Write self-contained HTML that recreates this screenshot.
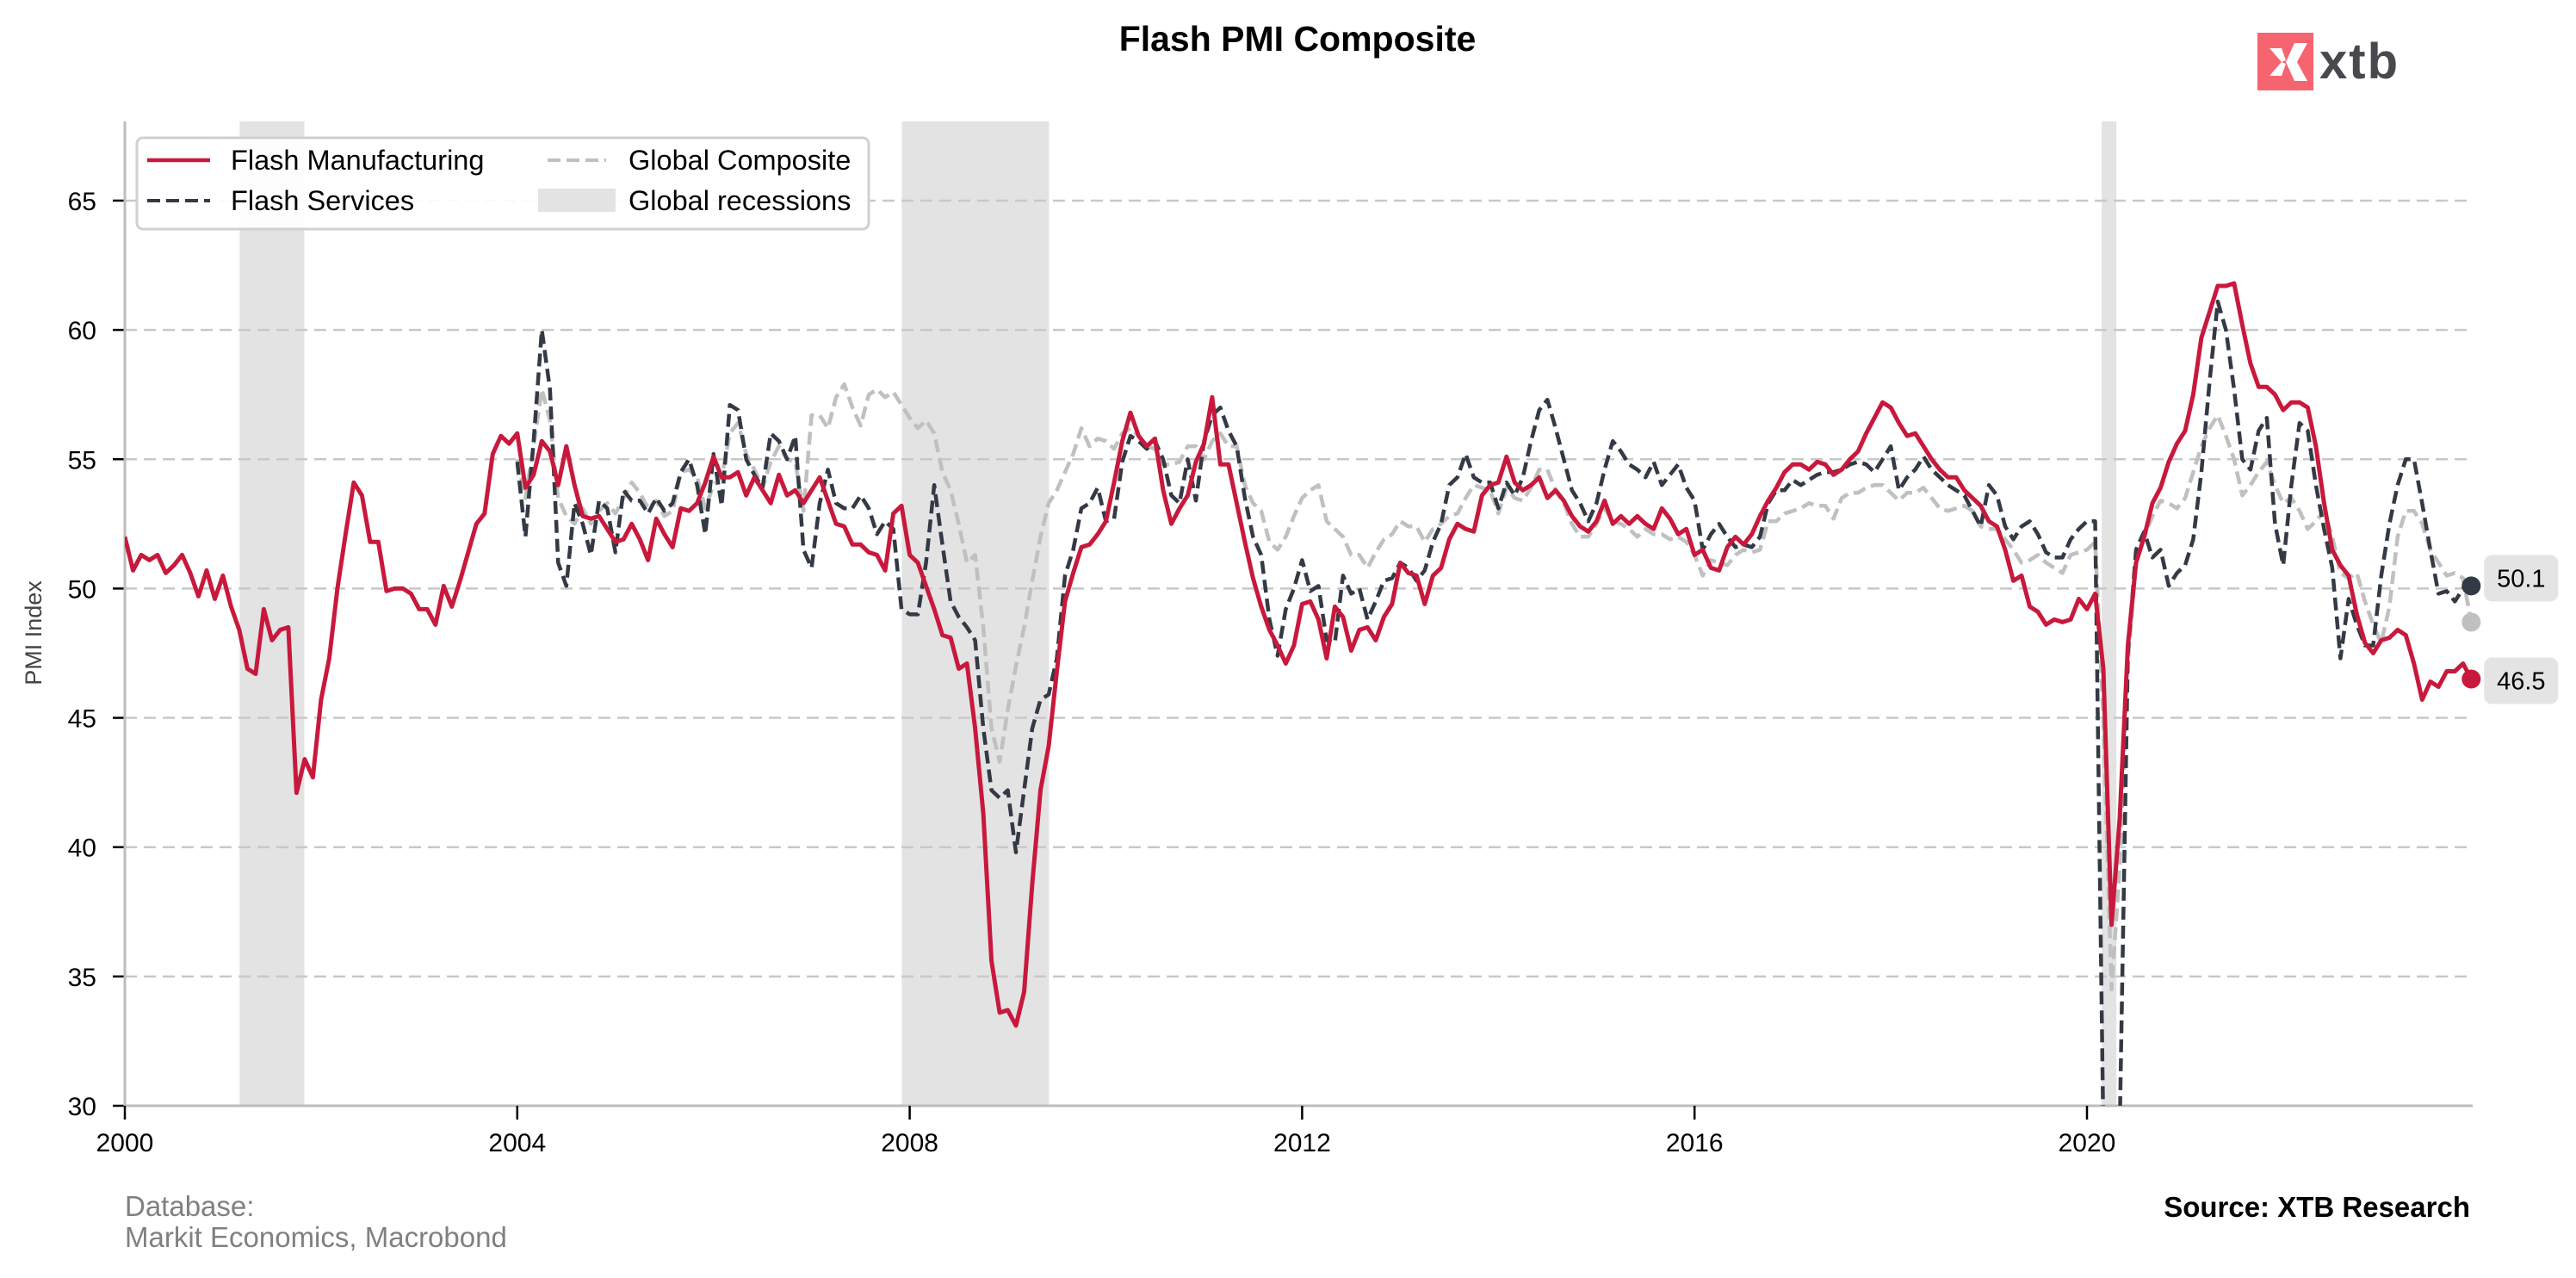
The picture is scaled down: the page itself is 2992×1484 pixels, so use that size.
<!DOCTYPE html>
<html><head><meta charset="utf-8"><title>Flash PMI Composite</title>
<style>
html,body{margin:0;padding:0;background:#fff;overflow:hidden;width:2992px;height:1484px;}
svg{display:block;font-family:"Liberation Sans",Arial,sans-serif;overflow:hidden;}
</style></head>
<body>
<svg id="chart" width="2992" height="1484" viewBox="0 0 2992 1484" xmlns="http://www.w3.org/2000/svg">
  <defs><clipPath id="plotclip"><rect x="145" y="141" width="2760" height="1143"/></clipPath></defs>
  <text x="1507" y="59" text-anchor="middle" font-size="41" font-weight="bold" fill="#000">Flash PMI Composite</text>
  <g>
    <rect x="2622" y="38" width="65" height="67" fill="#f6646f"/>
    <polygon points="2636,56 2650,56 2655,70 2650,72" fill="#fff"/>
    <polygon points="2665,50 2680,50 2668,72 2680,94 2665,94 2655,72" fill="#fff"/>
    <polygon points="2636,88 2650,88 2655,74 2650,72" fill="#fff"/>
    <text x="2694" y="91" font-size="58" font-weight="bold" letter-spacing="2" fill="#48484e">xtb</text>
  </g>
  <g id="recessions"></g>
  <g id="grid"></g>
  <g id="axes"></g>
  <g id="series" clip-path="url(#plotclip)"></g>
  <g id="markers"></g>
  <text transform="translate(48,735) rotate(-90)" text-anchor="middle" font-size="27" fill="#444">PMI Index</text>
  <g>
    <rect x="159" y="160" width="850" height="106" rx="7" fill="#fff" fill-opacity="0.9" stroke="#d0d0d0" stroke-width="3"/>
    <line x1="171" y1="186" x2="244" y2="186" stroke="#c8193c" stroke-width="4.5"/>
    <text x="268" y="197" font-size="32.5" fill="#000">Flash Manufacturing</text>
    <line x1="171" y1="233" x2="244" y2="233" stroke="#333a45" stroke-width="4" stroke-dasharray="15,7"/>
    <text x="268" y="244" font-size="32.5" fill="#000">Flash Services</text>
    <line x1="636" y1="186" x2="704" y2="186" stroke="#c0c0c0" stroke-width="4" stroke-dasharray="15,7"/>
    <text x="730" y="197" font-size="32.5" fill="#000">Global Composite</text>
    <rect x="625" y="219" width="90" height="27" fill="#e3e3e3"/>
    <text x="730" y="244" font-size="32.5" fill="#000">Global recessions</text>
  </g>
  <text x="145" y="1412" font-size="33" fill="#808080">Database:</text>
  <text x="145" y="1448" font-size="33" fill="#808080">Markit Economics, Macrobond</text>
  <text x="2869" y="1413" text-anchor="end" font-size="33" font-weight="bold" fill="#000">Source: XTB Research</text>
</svg>
<script>
// ---- data ----
const yTicks = [30,35,40,45,50,55,60,65];
const xTickYears = [2000,2004,2008,2012,2016,2020];
const recessionStart = [2001.17, 2007.92, 2020.15];
const recessionEnd   = [2001.83, 2009.42, 2020.30];
const manufStartMonth = 0;
const manufacturing = [
52.0,50.7,51.3,51.1,51.3,50.6,50.9,51.3,50.6,49.7,50.7,49.6,
50.5,49.3,48.4,46.9,46.7,49.2,48.0,48.4,48.5,42.1,43.4,42.7,
45.7,47.3,50.0,52.1,54.1,53.6,51.8,51.8,49.9,50.0,50.0,49.8,
49.2,49.2,48.6,50.1,49.3,50.3,51.4,52.5,52.9,55.2,55.9,55.6,
56.0,53.9,54.4,55.7,55.3,54.0,55.5,54.0,52.8,52.7,52.8,52.3,
51.8,51.9,52.5,51.9,51.1,52.7,52.1,51.6,53.1,53.0,53.3,54.1,
55.1,54.3,54.3,54.5,53.6,54.3,53.8,53.3,54.4,53.6,53.8,53.3,
53.8,54.3,53.4,52.5,52.4,51.7,51.7,51.4,51.3,50.7,52.9,53.2,
51.3,51.0,50.1,49.2,48.2,48.1,46.9,47.1,44.6,41.3,35.6,33.6,
33.7,33.1,34.4,38.6,42.2,43.9,46.8,49.5,50.6,51.6,51.7,52.1,
52.6,54.1,55.7,56.8,55.9,55.5,55.8,53.8,52.5,53.1,53.6,54.9,
55.6,57.4,54.8,54.8,53.3,51.8,50.4,49.3,48.4,47.8,47.1,47.8,
49.4,49.5,48.8,47.3,49.3,48.9,47.6,48.4,48.5,48.0,48.9,49.4,
51.0,50.6,50.5,49.4,50.5,50.8,51.9,52.5,52.3,52.2,53.6,54.0,
54.1,55.1,54.1,53.8,54.0,54.3,53.5,53.8,53.4,52.8,52.4,52.2,
52.6,53.4,52.5,52.8,52.5,52.8,52.5,52.3,53.1,52.7,52.1,52.3,
51.3,51.5,50.8,50.7,51.6,52.0,51.7,52.1,52.8,53.4,53.9,54.5,
54.8,54.8,54.6,54.9,54.8,54.4,54.6,55.0,55.3,56.0,56.6,57.2,
57.0,56.4,55.9,56.0,55.5,55.0,54.6,54.3,54.3,53.8,53.5,53.2,
52.6,52.4,51.5,50.3,50.5,49.3,49.1,48.6,48.8,48.7,48.8,49.6,
49.2,49.8,46.9,37.0,41.1,47.8,51.0,52.0,53.3,53.9,54.9,55.6,
56.1,57.5,59.7,60.7,61.7,61.7,61.8,60.2,58.7,57.8,57.8,57.5,
56.9,57.2,57.2,57.0,55.5,53.3,51.5,50.9,50.5,49.0,47.9,47.5,
48.0,48.1,48.4,48.2,47.1,45.7,46.4,46.2,46.8,46.8,47.1,46.5];
const servicesStartMonth = 48;
const services = [
54.9,52.0,55.7,60.0,57.7,51.0,50.1,53.3,52.5,51.3,53.4,53.1,
51.4,53.8,53.4,53.4,52.9,53.5,53.0,53.3,54.5,55.0,54.0,52.1,
55.2,53.2,57.1,56.9,55.0,54.4,53.9,56.0,55.7,55.0,55.9,51.5,
50.8,53.3,54.6,53.3,53.1,53.1,53.6,53.1,52.1,52.6,52.3,49.2,
49.0,49.0,51.0,54.0,51.7,49.5,48.9,48.5,48.0,
44.6,42.2,41.9,42.2,39.8,42.2,44.6,45.7,45.9,47.3,
50.5,51.5,53.1,53.3,53.9,52.6,52.7,54.9,55.9,55.7,
55.4,55.7,55.0,53.6,53.3,55.0,53.4,55.7,56.7,57.0,
56.1,55.5,53.5,52.0,51.3,48.8,47.4,49.2,50.0,51.1,
49.9,50.1,48.0,47.9,50.5,49.8,50.0,48.8,49.5,50.3,
50.4,51.0,50.8,50.3,50.7,51.8,52.5,54.0,54.3,55.2,
54.3,54.1,54.1,53.1,54.1,53.6,54.3,55.7,56.9,57.3,
56.2,55.0,53.8,53.3,52.6,53.3,54.6,55.7,55.3,54.8,
54.6,54.3,54.9,54.0,54.4,54.8,53.9,53.4,51.5,52.1,
52.5,52.0,51.6,51.7,51.6,52.0,53.3,53.8,53.8,54.2,
54.0,54.2,54.4,54.5,54.5,54.6,54.8,54.9,54.8,54.5,
55.0,55.5,53.8,54.3,54.6,55.1,54.6,54.3,54.0,53.8,
53.6,53.0,52.4,54.0,53.6,52.4,51.9,52.4,52.6,52.1,
51.4,51.2,51.2,51.9,52.3,52.6,52.6,
29.0,12.0,29.0,47.5,51.5,52.2,51.2,51.5,50.1,50.6,
50.9,51.9,54.5,58.0,61.1,60.0,57.7,55.0,54.6,56.1,56.6,52.5,
50.9,54.0,56.4,56.1,54.0,52.3,50.8,47.3,49.6,48.6,47.8,47.8,
50.5,52.5,54.0,55.0,55.0,53.3,51.5,49.8,49.9,49.5,50.0,50.1];
const globalStartMonth = 48;
const globalComposite = [
55.0,53.5,55.5,57.7,56.5,53.5,52.8,52.5,53.1,52.5,
53.0,53.3,52.9,53.5,54.1,53.7,53.1,53.4,52.8,53.0,
54.5,54.6,54.3,53.1,54.0,54.3,56.0,56.4,55.2,54.6,
53.9,54.9,55.5,55.0,54.9,53.0,56.7,56.7,56.2,57.4,
57.9,57.0,56.3,57.5,57.7,57.4,57.6,57.1,56.6,56.2,
56.5,56.0,54.5,53.8,52.5,51.0,51.3,48.5,
44.6,43.3,45.3,47.0,48.5,50.3,52.0,53.3,53.8,54.5,
55.2,56.2,55.5,55.8,55.7,55.4,56.0,56.2,55.9,55.5,
55.4,54.8,54.8,54.9,55.5,55.5,55.0,55.7,56.0,55.5,
55.5,54.0,53.3,53.0,51.8,51.5,52.0,52.8,53.5,53.8,
54.0,52.6,52.3,52.0,51.3,51.3,50.8,51.4,51.9,52.1,
52.6,52.4,52.4,51.8,52.3,52.5,52.8,52.9,53.5,54.0,
53.9,53.8,52.9,53.9,53.5,53.4,53.9,54.6,54.6,53.8,
53.3,52.5,52.0,52.0,52.5,53.1,52.6,52.5,52.3,52.0,
52.3,52.1,52.1,51.9,52.0,51.8,51.3,50.5,51.1,51.0,
50.9,51.3,51.5,51.4,51.5,52.6,52.6,52.9,53.0,
53.1,53.3,53.2,53.2,52.7,53.5,53.7,53.7,53.9,54.0,
54.0,53.7,53.4,53.7,53.7,53.9,53.5,53.1,53.0,53.1,
53.2,53.0,52.4,52.3,52.3,51.9,51.5,51.0,51.1,51.3,
51.0,50.8,50.6,51.3,51.4,51.5,51.8,
45.0,34.5,39.2,47.1,51.0,52.0,52.8,53.4,53.3,53.1,
53.5,54.5,55.5,56.2,56.7,55.9,55.0,53.6,54.0,54.5,54.9,54.0,
53.3,53.5,53.0,52.3,52.6,53.0,52.0,50.6,50.4,50.6,49.5,48.6,
47.9,49.3,52.0,53.0,53.0,52.5,51.5,51.0,50.5,50.6,50.4,48.7];

// ---- scales ----
const X0 = 145, PX_PER_YEAR = 113.95, Y30 = 1284, PX_PER_UNIT = 30.03, XEND = 2872;
function xYear(y){ return X0 + (y - 2000) * PX_PER_YEAR; }
function xMonth(m){ return X0 + m / 12 * PX_PER_YEAR; }
function yVal(v){ return Y30 - (v - 30) * PX_PER_UNIT; }
const NS = "http://www.w3.org/2000/svg";
function mk(tag, attrs, parent){ const e = document.createElementNS(NS, tag); for (const k in attrs) e.setAttribute(k, attrs[k]); parent.appendChild(e); return e; }

const rg = document.getElementById('recessions');
recessionStart.forEach((s, i) => {
  const r = mk('rect', {x: xYear(s), y: 141, width: xYear(recessionEnd[i]) - xYear(s), height: Y30 - 141, fill: '#e3e3e3'}, rg);
  
  
});
const gg = document.getElementById('grid');
const ag = document.getElementById('axes');
yTicks.forEach(v => {
  const l = mk('line', {x1: X0, x2: XEND, y1: yVal(v), y2: yVal(v), stroke: '#c8c8c8', 'stroke-width': 2.5, 'stroke-dasharray': '14,8'}, gg);
  
  
  mk('line', {x1: 131, x2: X0, y1: yVal(v), y2: yVal(v), stroke: '#000', 'stroke-width': 2.5}, ag);
  const t = mk('text', {x: 112, y: yVal(v) + 11, 'text-anchor': 'end', 'font-size': 30, fill: '#000'}, ag);
  t.textContent = v;
  
  
});
mk('line', {x1: X0, x2: X0, y1: 141, y2: Y30 + 1.5, stroke: '#bdbdbd', 'stroke-width': 3}, ag);
mk('line', {x1: X0, x2: XEND, y1: Y30, y2: Y30, stroke: '#bdbdbd', 'stroke-width': 3}, ag);
xTickYears.forEach(yr => {
  mk('line', {x1: xYear(yr), x2: xYear(yr), y1: Y30, y2: Y30 + 16, stroke: '#000', 'stroke-width': 2.5}, ag);
  const t = mk('text', {x: xYear(yr), y: 1337, 'text-anchor': 'middle', 'font-size': 30, fill: '#000'}, ag);
  t.textContent = yr;
  
  
});
const sg = document.getElementById('series');
function pathFor(vals, start){ return vals.map((v, i) => (i ? 'L' : 'M') + xMonth(start + i).toFixed(1) + ',' + yVal(v).toFixed(1)).join(' '); }
const pg = mk('path', {d: pathFor(globalComposite, globalStartMonth), fill: 'none', stroke: '#c0c0c0', 'stroke-width': 4.5, 'stroke-dasharray': '15,7', 'stroke-linejoin': 'round'}, sg);


const ps = mk('path', {d: pathFor(services, servicesStartMonth), fill: 'none', stroke: '#333a45', 'stroke-width': 4.5, 'stroke-dasharray': '15,7', 'stroke-linejoin': 'round'}, sg);


const pm = mk('path', {d: pathFor(manufacturing, manufStartMonth), fill: 'none', stroke: '#c8193c', 'stroke-width': 5, 'stroke-linejoin': 'round'}, sg);


const mg = document.getElementById('markers');
function endDot(vals, start, color, name){
  const i = vals.length - 1;
  const c = mk('circle', {cx: xMonth(start + i), cy: yVal(vals[i]), r: 11, fill: color}, mg);
  
  
  return {x: xMonth(start + i), y: yVal(vals[i]), v: vals[i]};
}
function endLabel(p, dy, name){
  const g = mk('g', {}, mg);
  
  
  mk('rect', {x: p.x + 15, y: p.y + dy - 27, width: 86, height: 54, rx: 9, fill: '#e4e4e4'}, g);
  const t = mk('text', {x: p.x + 58, y: p.y + dy + 10, 'text-anchor': 'middle', 'font-size': 29, fill: '#000'}, g);
  t.textContent = p.v.toFixed(1);
}
endDot(globalComposite, globalStartMonth, '#c0c0c0', 'global-end-dot');
const sp = endDot(services, servicesStartMonth, '#333a45', 'services-end-dot');
const mp = endDot(manufacturing, manufStartMonth, '#c8193c', 'manufacturing-end-dot');
endLabel(sp, -9, 'services-end-label');
endLabel(mp, 2, 'manufacturing-end-label');
</script>
</body></html>
